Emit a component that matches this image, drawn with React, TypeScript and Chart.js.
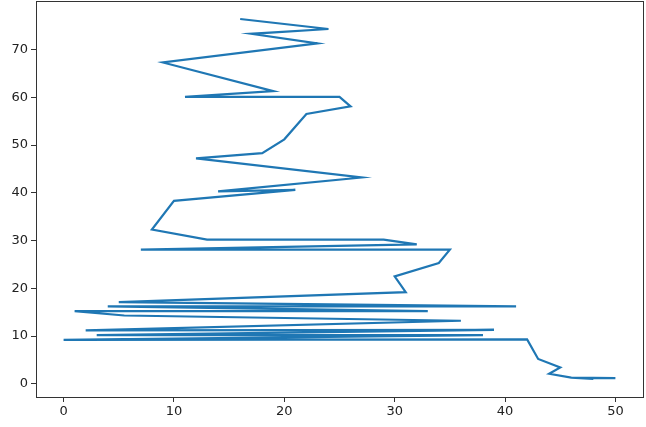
import React, { useEffect, useRef } from "react";
import { Chart, registerables } from "chart.js";

Chart.register(...registerables);

const xValues = [16, 24, 17, 23, 9, 19, 11, 25, 26, 22, 20, 18, 12, 27, 14, 21, 10, 8, 13, 29, 32, 7, 35, 34, 30, 31, 5, 41, 4, 33, 1, 5.5, 36, 2, 39, 3, 38, 0, 42, 43, 45, 44, 46, 48, 46, 50];
const yValues = [76.4, 74.3, 73.3, 71.3, 67.3, 61.3, 60.1, 60.1, 58.1, 56.5, 51.2, 48.3, 47.2, 43.2, 40.3, 40.6, 38.3, 32.3, 30.2, 30.2, 29.2, 28.1, 28.1, 25.3, 22.5, 19.2, 17.1, 16.2, 16.2, 15.2, 15.2, 14.3, 13.2, 11.2, 11.3, 10.2, 10.2, 9.2, 9.3, 5.2, 3.4, 2.1, 1.3, 1.0, 1.3, 1.2];
const xTicks = [0, 10, 20, 30, 40, 50];
const yTicks = [0, 10, 20, 30, 40, 50, 60, 70];

const framePlugin = {
  id: "frame",
  afterDraw(chart: any) {
    const { ctx, chartArea } = chart;
    ctx.save();
    ctx.strokeStyle = "#333";
    ctx.lineWidth = 1;
    ctx.strokeRect(
      Math.round(chartArea.left) + 0.5,
      Math.round(chartArea.top) + 0.5,
      Math.round(chartArea.right - chartArea.left),
      Math.round(chartArea.bottom - chartArea.top)
    );
    ctx.restore();
  },
};

export default function App() {
  const ref = useRef<HTMLCanvasElement>(null);
  useEffect(() => {
    if (!ref.current) return;
    const font = { family: "'DejaVu Sans', sans-serif", size: 13 };
    const chart = new Chart(ref.current, {
      type: "scatter",
      data: {
        datasets: [
          {
            data: xValues.map((x, i) => ({ x, y: yValues[i] })),
            showLine: true,
            borderColor: "#1f77b4",
            borderWidth: 2.2,
            pointRadius: 0,
            fill: false,
            tension: 0,
          },
        ],
      },
      options: {
        animation: false,
        responsive: false,
        events: [],
        layout: { padding: { top: 1, right: 3, left: 0, bottom: 0 } },
        plugins: { legend: { display: false }, tooltip: { enabled: false } },
        scales: {
          x: {
            type: "linear",
            min: -2.5,
            max: 52.5,
            afterBuildTicks: (s: any) => {
              s.ticks = xTicks.map((v) => ({ value: v }));
            },
            afterFit: (s: any) => {
              s.height = 30;
              s.paddingLeft = 0;
              s.paddingRight = 0;
            },
            grid: { drawOnChartArea: false, drawTicks: true, tickLength: 5, color: "#333" },
            border: { display: false },
            ticks: { color: "#222", font, padding: 2, maxRotation: 0 },
          },
          y: {
            type: "linear",
            min: -2.77,
            max: 80.17,
            afterBuildTicks: (s: any) => {
              s.ticks = yTicks.map((v) => ({ value: v }));
            },
            afterFit: (s: any) => {
              s.width = 36;
              s.paddingTop = 0;
              s.paddingBottom = 0;
            },
            grid: { drawOnChartArea: false, drawTicks: true, tickLength: 5, color: "#333" },
            border: { display: false },
            ticks: { color: "#222", font, padding: 3 },
          },
        },
      },
      plugins: [framePlugin],
    });
    return () => chart.destroy();
  }, []);
  return (
    <div style={{ position: "fixed", left: 0, top: 0, width: 646, height: 427, background: "#fff" }}>
      <canvas ref={ref} width={646} height={427} style={{ display: "block" }} />
    </div>
  );
}
